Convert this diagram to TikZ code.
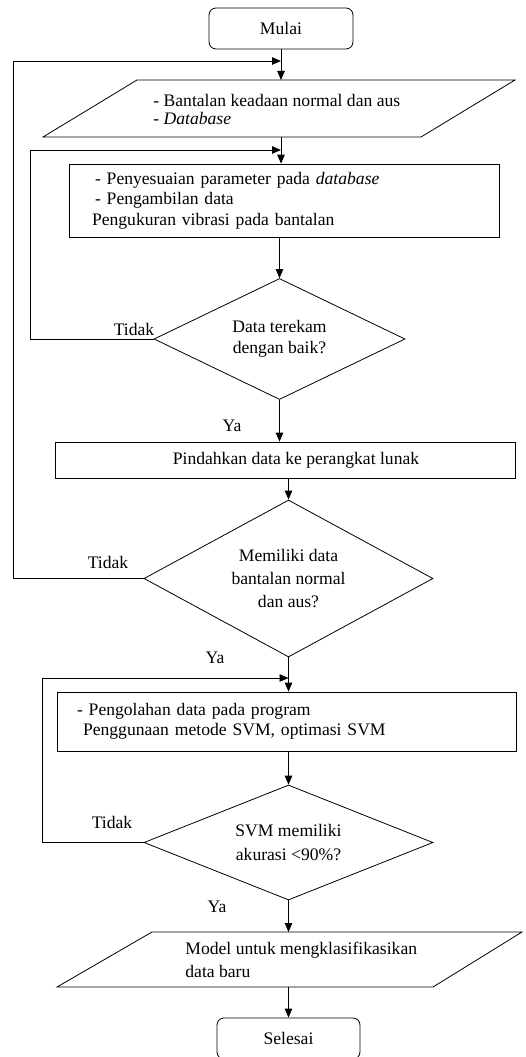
\documentclass[tikz,border=0pt]{standalone}
\usepackage{fontspec}
\setmainfont{Liberation Serif}
\usetikzlibrary{shapes.geometric,arrows.meta,calc}
\begin{document}
\begin{tikzpicture}[x=1pt,y=-1pt,
  line width=0.8pt,
  every node/.style={font=\fontsize{17.6}{21}\selectfont, inner sep=0pt},
  arr/.style={-{Triangle[length=9pt,width=7.5pt]}},
  term/.style={draw, rounded corners=7pt, minimum width=144pt, minimum height=41pt},
  procbox/.style={draw, rectangle},
  decision/.style={draw, diamond, inner sep=0pt, align=center},
  lbl/.style={}
]
\useasboundingbox (0,0) rectangle (526,1057);

% start
\node[term] (mulai) at (281,28.5) {Mulai};

% input 1
\coordinate (p1tl) at (137,80);
\coordinate (p1tr) at (515,80);
\coordinate (p1br) at (421,137);
\coordinate (p1bl) at (43,137);
\draw (p1tl) -- (p1tr) -- (p1br) -- (p1bl) -- cycle;
\node[anchor=west, align=left, font=\fontsize{17.6}{18.5}\selectfont] (p1) at (153,109.5)
  {- Bantalan keadaan normal dan aus\\- \textit{Database}};

% process 1
\node[procbox, text width=384pt, inner xsep=23pt, minimum height=73pt, align=left,
  font=\fontsize{17.6}{20.5}\selectfont] (b2) at (284,200.5)
  {\hspace*{3pt}- Penyesuaian parameter pada \textit{database}\\\hspace*{3pt}- Pengambilan data\\Pengukuran vibrasi pada bantalan};

% decision 1
\node[decision, shape aspect=2.07, minimum width=251pt, minimum height=121pt,
  font=\fontsize{17.6}{21.5}\selectfont] (d1) at (279.5,339) {Data terekam\\dengan baik?};

% process 2
\node[procbox, minimum width=460pt, minimum height=36pt] (b3) at (285,460)
  {\hspace*{22pt}Pindahkan data ke perangkat lunak};

% decision 2
\node[decision, shape aspect=1.84, minimum width=289pt, minimum height=157pt,
  font=\fontsize{17.6}{23}\selectfont] (d2) at (288.5,578.5) {Memiliki data\\bantalan normal\\dan aus?};

% process 3
\node[procbox, text width=419pt, inner xsep=20pt, minimum height=59pt, align=left,
  font=\fontsize{17.6}{20}\selectfont] (b4) at (286.5,721.5)
  {- Pengolahan data pada program\\\hspace*{6pt}Penggunaan metode SVM, optimasi SVM};

% decision 3
\node[decision, shape aspect=2.5, minimum width=289pt, minimum height=115pt,
  font=\fontsize{17.6}{24}\selectfont] (d3) at (288.5,842.5) {SVM memiliki\\akurasi <90\%?};

% output
\coordinate (p2tl) at (152,932);
\coordinate (p2tr) at (522,932);
\coordinate (p2br) at (433,987);
\coordinate (p2bl) at (57,987);
\draw (p2tl) -- (p2tr) -- (p2br) -- (p2bl) -- cycle;
\node[anchor=west, align=left, font=\fontsize{17.6}{23}\selectfont] (p2) at (185,960)
  {Model untuk mengklasifikasikan\\data baru};

% end
\node[term, minimum width=143pt] (selesai) at (288.5,1038.5) {Selesai};

% junctions
\coordinate (j1) at (281,61);
\coordinate (j2) at (281,150);
\coordinate (j3) at (288.5,678);

% main flow
\draw[arr] (mulai.south) -- (mulai.south |- p1tl);
\draw[arr] (mulai.south |- p1bl) -- (mulai.south |- b2.north);
\draw[arr] (d1.north |- b2.south) -- (d1.north);
\draw[arr] (d1.south) -- (d1.south |- b3.north);
\draw[arr] (d2.north |- b3.south) -- (d2.north);
\draw[arr] (d2.south) -- (d2.south |- b4.north);
\draw[arr] (d3.north |- b4.south) -- (d3.north);
\draw[arr] (d3.south) -- (d3.south |- p2tl);
\draw[arr] (selesai.north |- p2bl) -- (selesai.north);

% loops
\draw[arr] (d2.west) -- ++(-130,0) |- (j1);
\draw[arr] (d1.west) -- ++(-123,0) |- (j2);
\draw[arr] (d3.west) -- ++(-101,0) |- (j3);

% labels
\node[lbl] (t1) at (134,329) {Tidak};
\node[lbl] (y1) at (232,426) {Ya};
\node[lbl] (t2) at (108,562) {Tidak};
\node[lbl] (y2) at (215,658) {Ya};
\node[lbl] (t3) at (112,822) {Tidak};
\node[lbl] (y3) at (217,907) {Ya};
\end{tikzpicture}
\end{document}
